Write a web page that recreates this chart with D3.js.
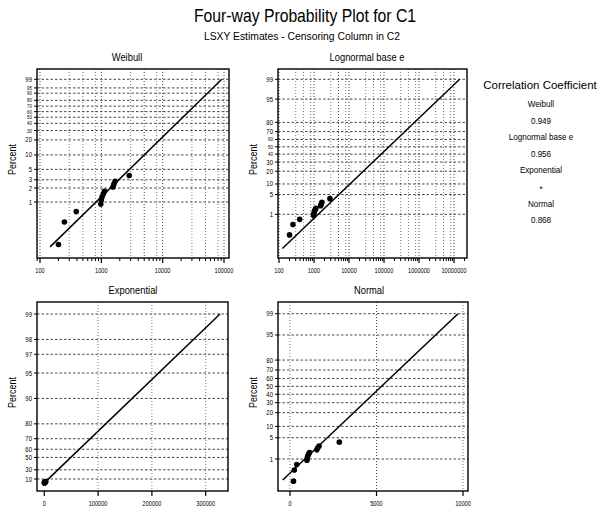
<!DOCTYPE html>
<html>
<head>
<meta charset="utf-8">
<script src="https://cdn.jsdelivr.net/npm/d3@7"></script>
<style>
  body { margin: 0; background: #fff; }
  text { font-family: "Liberation Sans", Arial, sans-serif; fill: #000; }
</style>
</head>
<body>
<div id="chart"></div>
<script>
var width  = 603;
var height = 513;

// data: failure times and their plotting positions (percent)
var times    = [200, 250, 390, 980, 1000, 1030, 1080, 1130, 1550, 1600, 1680, 2850];
var percents = [0.12, 0.37, 0.62, 0.9, 1.1, 1.3, 1.5, 1.7, 2.1, 2.4, 2.8, 3.7];

// fitted lines, [time, percent] end points
var weibullFit     = [[146, 0.107], [92000, 99]];
var lognormalFit   = [[125, 0.023], [14500000, 99]];
var exponentialFit = [[0, 0], [326600, 99]];
var normalFit      = [[-421, 0.135], [9711, 99]];

// tick labels
var weibullYTicks   = [99, 95, 90, 80, 70, 60, 50, 40, 30, 20, 10, 5, 3, 2, 1];
var normalYTicks    = [99, 95, 80, 70, 60, 50, 40, 30, 20, 10, 5, 1];
var expYTicks       = [99, 98, 97, 95, 90, 80, 70, 60, 50, 30, 10];
var weibullXTicks   = [100, 1000, 10000, 100000];
var lognormalXTicks = [100, 1000, 10000, 100000, 1000000, 10000000];
var expXTicks       = [0, 100000, 200000, 300000];
var normalXTicks    = [0, 5000, 10000];

var corrNames  = ["Weibull", "Lognormal base e", "Exponential", "Normal"];
var corrValues = ["0.949", "0.956", "*", "0.868"];

var svg = d3.select("#chart")
    .append("svg")
    .attr("width", width)
    .attr("height", height);

// inverse normal cdf (Acklam)
function probit(p) {
  var a = [-39.69683028665376, 220.9460984245205, -275.9285104469687, 138.3577518672690, -30.66479806614716, 2.506628277459239];
  var b = [-54.47609879822406, 161.5858368580409, -155.6989798598866, 66.80131188771972, -13.28068155288572];
  var c = [-0.007784894002430293, -0.3223964580411365, -2.400758277161838, -2.549732539343734, 4.374664141464968, 2.938163982698783];
  var d = [0.007784695709041462, 0.3224671290700398, 2.445134137142996, 3.754408661907416];
  var q, r;
  if (p < 0.02425) {
    q = Math.sqrt(-2 * Math.log(p));
    return (((((c[0]*q+c[1])*q+c[2])*q+c[3])*q+c[4])*q+c[5]) / ((((d[0]*q+d[1])*q+d[2])*q+d[3])*q+1);
  }
  if (p > 1 - 0.02425) {
    q = Math.sqrt(-2 * Math.log(1 - p));
    return -(((((c[0]*q+c[1])*q+c[2])*q+c[3])*q+c[4])*q+c[5]) / ((((d[0]*q+d[1])*q+d[2])*q+d[3])*q+1);
  }
  q = p - 0.5; r = q * q;
  return (((((a[0]*r+a[1])*r+a[2])*r+a[3])*r+a[4])*r+a[5])*q / (((((b[0]*r+b[1])*r+b[2])*r+b[3])*r+b[4])*r+1);
}

var tWeibull = function(p) { return Math.log(-Math.log(1 - p / 100)); };
var tNormal  = function(p) { return probit(p / 100); };
var tExp     = function(p) { return -Math.log(1 - p / 100); };

// squeeze text horizontally, the scan uses a narrow face
function squeeze(sel, k) {
  sel.each(function() {
    var w = this.getComputedTextLength();
    d3.select(this).attr("textLength", w * k).attr("lengthAdjust", "spacingAndGlyphs");
  });
}

function fitWidth(sel, w) {
  sel.attr("textLength", w).attr("lengthAdjust", "spacingAndGlyphs");
}

function logGrid(domain, steps) {
  var out = [];
  for (var dec = 10; dec <= domain[1]; dec *= 10) {
    steps.forEach(function(s) {
      var v = dec * s;
      if (v > domain[0] && v < domain[1]) out.push(v);
    });
  }
  return out;
}

var points = times.map(function(t, i) { return { t: t, p: percents[i] }; });

var panels = [
  { title: "Weibull", titleX: 127, box: [37, 69, 229, 258],
    x: d3.scaleLog().domain([100, 100000]).range([40, 224]), log: true,
    t: tWeibull, yScale: d3.scaleLinear().domain([tWeibull(99), tWeibull(1)]).range([79.3, 202]),
    yTicks: weibullYTicks, xTicks: weibullXTicks, fit: weibullFit },
  { title: "Lognormal base e", titleX: 367, box: [278, 69, 467, 258],
    x: d3.scaleLog().domain([100, 10000000]).range([279, 454]), log: true,
    t: tNormal, yScale: d3.scaleLinear().domain([tNormal(99), tNormal(1)]).range([79.3, 214.3]),
    yTicks: normalYTicks, xTicks: lognormalXTicks, fit: lognormalFit },
  { title: "Exponential", titleX: 133, box: [37, 302, 228, 491],
    x: d3.scaleLinear().domain([0, 300000]).range([44.3, 205.7]), log: false,
    t: tExp, yScale: d3.scaleLinear().domain([tExp(99), tExp(10)]).range([314, 479]),
    yTicks: expYTicks, xTicks: expXTicks, xGrid: [100000, 200000, 300000], fit: exponentialFit },
  { title: "Normal", titleX: 369, box: [278, 302, 468, 491],
    x: d3.scaleLinear().domain([0, 10000]).range([290, 463]), log: false,
    t: tNormal, yScale: d3.scaleLinear().domain([tNormal(99), tNormal(1)]).range([313.7, 459]),
    yTicks: normalYTicks, xTicks: normalXTicks, xGrid: normalXTicks, fit: normalFit }
];

panels.forEach(drawPanel);

function drawPanel(cfg) {
  var b = cfg.box;
  var x = cfg.x;
  var y = function(p) { return cfg.yScale(cfg.t(p)); };
  var g = svg.append('g');
  var xDom = [x.invert(b[0]), x.invert(b[2])];

  // horizontal grid
  g.selectAll('line.hgrid')
    .data(cfg.yTicks)
    .enter()
    .append('line')
    .attr('x1', b[0]).attr('x2', b[2])
    .attr('y1', y).attr('y2', y)
    .attr('stroke', '#333')
    .attr('stroke-width', 0.9)
    .attr('stroke-dasharray', '2.5,2');

  // vertical grid
  var vgrid = cfg.log ? logGrid(xDom, [3, 5, 8, 10]) : cfg.xGrid;
  g.selectAll('line.vgrid')
    .data(vgrid)
    .enter()
    .append('line')
    .attr('x1', x).attr('x2', x)
    .attr('y1', b[1]).attr('y2', b[3])
    .attr('stroke', '#444')
    .attr('stroke-width', function(d) { return (cfg.log && Math.log10(d) % 1 === 0) || d === 5000 ? 1 : 0.7; })
    .attr('stroke-dasharray', '1,2');

  // frame
  g.append('rect')
    .attr('x', b[0]).attr('y', b[1])
    .attr('width', b[2] - b[0]).attr('height', b[3] - b[1])
    .attr('fill', 'none')
    .attr('stroke', '#000')
    .attr('stroke-width', 1.4);

  // y ticks
  g.selectAll('line.ytick')
    .data(cfg.yTicks)
    .enter()
    .append('line')
    .attr('x1', b[0] - 3).attr('x2', b[0])
    .attr('y1', y).attr('y2', y)
    .attr('stroke', '#000');

  // crowded labels (close neighbours) get a smaller face
  var crowded = function(d, i) {
    var gapUp = i > 0 ? Math.abs(y(d) - y(cfg.yTicks[i - 1])) : 99;
    var gapDn = i < cfg.yTicks.length - 1 ? Math.abs(y(d) - y(cfg.yTicks[i + 1])) : 99;
    return Math.min(gapUp, gapDn) < 7.5;
  };

  g.selectAll('text.ylab')
    .data(cfg.yTicks)
    .enter()
    .append('text')
    .attr('x', b[0] - 5)
    .attr('y', function(d, i) { return y(d) + (crowded(d, i) ? 2 : 2.5); })
    .attr('text-anchor', 'end')
    .style('font-size', function(d, i) { return crowded(d, i) ? '5.5px' : '7.5px'; })
    .text(function(d) { return d; })
    .call(squeeze, 0.8);

  // x ticks
  var minor = cfg.log ? logGrid(xDom, [2, 3, 4, 5, 6, 7, 8, 9]) : [];
  g.selectAll('line.xminor')
    .data(minor)
    .enter()
    .append('line')
    .attr('x1', x).attr('x2', x)
    .attr('y1', b[3]).attr('y2', b[3] + 3)
    .attr('stroke', '#000');

  g.selectAll('line.xtick')
    .data(cfg.xTicks)
    .enter()
    .append('line')
    .attr('x1', x).attr('x2', x)
    .attr('y1', b[3]).attr('y2', b[3] + 5)
    .attr('stroke', '#000')
    .attr('stroke-width', 1.2);

  g.selectAll('text.xlab')
    .data(cfg.xTicks)
    .enter()
    .append('text')
    .attr('x', x)
    .attr('y', b[3] + 15)
    .attr('text-anchor', 'middle')
    .style('font-size', '7.5px')
    .text(function(d) { return d; })
    .call(squeeze, 0.75);

  // fitted line
  g.append('line')
    .attr('x1', x(cfg.fit[0][0])).attr('y1', y(cfg.fit[0][1]))
    .attr('x2', x(cfg.fit[1][0])).attr('y2', y(cfg.fit[1][1]))
    .attr('stroke', '#000')
    .attr('stroke-width', 1.5);

  // data points
  g.selectAll('circle')
    .data(points)
    .enter()
    .append('circle')
    .attr('cx', function(d) { return x(d.t); })
    .attr('cy', function(d) { return y(d.p); })
    .attr('r', 2.8)
    .style('fill', '#000');

  // titles
  g.append('text')
    .attr('x', cfg.titleX)
    .attr('y', b[1] - 8)
    .attr('text-anchor', 'middle')
    .style('font-size', '11px')
    .text(cfg.title)
    .call(squeeze, 0.85);

  g.append('text')
    .attr('transform', 'translate(' + (b[0] - 21) + ',' + ((b[1] + b[3]) / 2 - 4) + ') rotate(-90)')
    .attr('text-anchor', 'middle')
    .style('font-size', '10.5px')
    .text('Percent')
    .call(squeeze, 0.85);
}

// main titles
svg.append('text')
  .attr('x', 305).attr('y', 22)
  .attr('text-anchor', 'middle')
  .style('font-size', '19px')
  .text('Four-way Probability Plot for C1')
  .call(fitWidth, 222);

svg.append('text')
  .attr('x', 302).attr('y', 40)
  .attr('text-anchor', 'middle')
  .style('font-size', '10px')
  .text('LSXY Estimates - Censoring Column in C2')
  .call(fitWidth, 196);

// correlation block
svg.append('text')
  .attr('x', 540).attr('y', 89)
  .attr('text-anchor', 'middle')
  .style('font-size', '11.5px')
  .text('Correlation Coefficient');

var corrLines = [];
corrNames.forEach(function(n, i) { corrLines.push(n, corrValues[i]); });

svg.selectAll('text.corr')
  .data(corrLines)
  .enter()
  .append('text')
  .attr('x', 541)
  .attr('y', function(d, i) { return 107 + i * 16.6 + (d === '*' ? 2 : 0); })
  .attr('text-anchor', 'middle')
  .style('font-size', '8.5px')
  .text(function(d) { return d; })
  .call(squeeze, 0.95);
</script>
</body>
</html>
